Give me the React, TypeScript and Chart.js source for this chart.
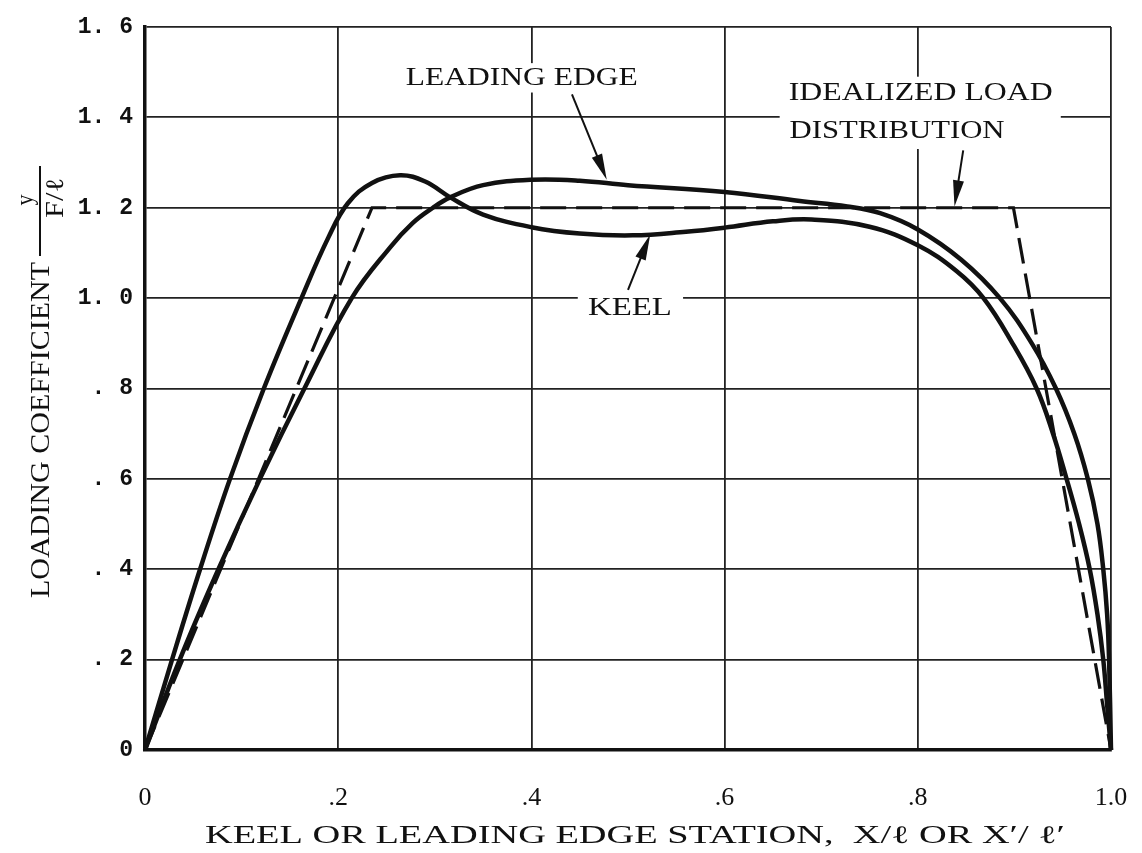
import React, { useEffect, useRef } from 'react';
import { Chart, registerables } from 'chart.js';

Chart.register(...registerables);

// ---- data ----
const keelX = [0, 0.028, 0.057, 0.088, 0.123, 0.162, 0.19, 0.21, 0.235, 0.264, 0.29, 0.316, 0.35, 0.4, 0.45, 0.505, 0.56, 0.6, 0.65, 0.69, 0.75, 0.8, 0.84, 0.868, 0.898, 0.923, 0.94, 0.954, 0.967, 0.978, 0.986, 0.992, 0.996, 1.0];
const keelY = [0, 0.2, 0.4, 0.6, 0.8, 1.0, 1.135, 1.21, 1.255, 1.272, 1.258, 1.223, 1.185, 1.157, 1.143, 1.139, 1.147, 1.156, 1.17, 1.174, 1.158, 1.117, 1.06, 1.0, 0.9, 0.8, 0.7, 0.6, 0.5, 0.4, 0.3, 0.2, 0.1, 0];

const leadingEdgeX = [0, 0.036, 0.076, 0.119, 0.165, 0.214, 0.254, 0.277, 0.298, 0.316, 0.35, 0.4, 0.45, 0.5, 0.6, 0.678, 0.727, 0.761, 0.8, 0.845, 0.885, 0.918, 0.943, 0.962, 0.976, 0.986, 0.992, 0.996, 0.998, 1.0];
const leadingEdgeY = [0, 0.2, 0.4, 0.6, 0.8, 1.0, 1.113, 1.166, 1.2, 1.223, 1.25, 1.262, 1.26, 1.25, 1.235, 1.215, 1.203, 1.188, 1.152, 1.085, 1.0, 0.9, 0.8, 0.7, 0.6, 0.5, 0.4, 0.3, 0.2, 0];

const idealX = [0, 0.235, 0.899, 1.0];
const idealY = [0, 1.2, 1.2, 0];

const xTickValues = [0, 0.2, 0.4, 0.6, 0.8, 1.0];
const xTickLabels = ['0', '.2', '.4', '.6', '.8', '1.0'];
const yTickValues = [0, 0.2, 0.4, 0.6, 0.8, 1.0, 1.2, 1.4, 1.6];
const yTickLabels = ['0', '. 2', '. 4', '. 6', '. 8', '1. 0', '1. 2', '1. 4', '1. 6'];

const xTitle = "KEEL OR LEADING EDGE STATION,  X/ℓ OR X′/ ℓ′";
const yTitle = 'LOADING COEFFICIENT';

const pts = (xs: number[], ys: number[]) => xs.map((x, i) => ({ x, y: ys[i] }));

const SERIF = "'Liberation Serif', 'DejaVu Serif', serif";

function fitText(ctx: CanvasRenderingContext2D, text: string, cx: number, cy: number, size: number, width: number, rot = 0, weight = 'normal') {
  ctx.save();
  ctx.font = `${weight} ${size}px ${SERIF}`;
  const w = ctx.measureText(text).width;
  ctx.translate(cx, cy);
  if (rot) ctx.rotate(rot);
  ctx.scale(width / w, 1);
  ctx.textAlign = 'center';
  ctx.textBaseline = 'alphabetic';
  ctx.fillStyle = '#111';
  ctx.fillText(text, 0, size * 0.33);
  ctx.restore();
}

function arrow(ctx: CanvasRenderingContext2D, x1: number, y1: number, x2: number, y2: number) {
  const ang = Math.atan2(y2 - y1, x2 - x1);
  const hl = 26, hw = 5.5;
  ctx.save();
  ctx.strokeStyle = '#111';
  ctx.fillStyle = '#111';
  ctx.lineWidth = 2;
  ctx.beginPath();
  ctx.moveTo(x1, y1);
  ctx.lineTo(x2 - Math.cos(ang) * hl * 0.8, y2 - Math.sin(ang) * hl * 0.8);
  ctx.stroke();
  ctx.beginPath();
  ctx.moveTo(x2, y2);
  ctx.lineTo(x2 - Math.cos(ang) * hl - Math.sin(ang) * hw, y2 - Math.sin(ang) * hl + Math.cos(ang) * hw);
  ctx.lineTo(x2 - Math.cos(ang) * hl + Math.sin(ang) * hw, y2 - Math.sin(ang) * hl - Math.cos(ang) * hw);
  ctx.closePath();
  ctx.fill();
  ctx.restore();
}

const annotPlugin = {
  id: 'annots',
  beforeDatasetsDraw(chart: any) {
    const ctx = chart.ctx as CanvasRenderingContext2D;
    const xs = chart.scales.x, ys = chart.scales.y;
    const box = (x1: number, y1: number, x2: number, y2: number) => {
      const a = xs.getPixelForValue(x1), b = ys.getPixelForValue(y1);
      const c = xs.getPixelForValue(x2), d = ys.getPixelForValue(y2);
      ctx.fillStyle = '#fff';
      ctx.fillRect(a, d, c - a, b - d);
    };
    ctx.save();
    box(0.269, 1.455, 0.512, 1.52);     // LEADING EDGE
    box(0.448, 0.945, 0.557, 1.012);    // KEEL
    box(0.657, 1.33, 0.948, 1.49);      // IDEALIZED LOAD DISTRIBUTION
    ctx.restore();
  },
  afterDatasetsDraw(chart: any) {
    const ctx = chart.ctx as CanvasRenderingContext2D;
    const xs = chart.scales.x, ys = chart.scales.y;
    const px = (v: number) => xs.getPixelForValue(v);
    const py = (v: number) => ys.getPixelForValue(v);
    fitText(ctx, 'LEADING EDGE', px(0.390), py(1.491), 25, 232);
    arrow(ctx, px(0.442), py(1.451), px(0.478), py(1.262));
    fitText(ctx, 'KEEL', px(0.502), py(0.980), 25, 84);
    arrow(ctx, px(0.500), py(1.018), px(0.523), py(1.141));
    fitText(ctx, 'IDEALIZED LOAD', px(0.803), py(1.456), 25, 264);
    fitText(ctx, 'DISTRIBUTION', px(0.7785), py(1.372), 25, 215);
    arrow(ctx, px(0.847), py(1.327), px(0.838), py(1.203));
  },
  afterDraw(chart: any) {
    const ctx = chart.ctx as CanvasRenderingContext2D;
    // x axis title
    fitText(ctx, xTitle, 635, 835, 25, 860);
    // y axis title (rotated)
    fitText(ctx, yTitle, 40, 430, 27, 336, -Math.PI / 2);
    // fraction y / (F/l)
    ctx.save();
    ctx.strokeStyle = '#111';
    ctx.lineWidth = 2;
    ctx.beginPath();
    ctx.moveTo(40, 256);
    ctx.lineTo(40, 166);
    ctx.stroke();
    ctx.restore();
    fitText(ctx, 'y', 25, 200, 25, 11, -Math.PI / 2);
    fitText(ctx, 'F/ℓ', 55, 198, 25, 40, -Math.PI / 2);
  },
};

export default function App() {
  const ref = useRef<HTMLCanvasElement | null>(null);
  useEffect(() => {
    if (!ref.current) return;
    const solid = { borderColor: '#111', borderWidth: 4.5, pointRadius: 0, showLine: true, fill: false, tension: 0.4, clip: 8 };
    const chart = new Chart(ref.current, {
      type: 'scatter',
      data: {
        datasets: [
          { label: 'Keel', data: pts(keelX, keelY), ...solid },
          { label: 'Leading edge', data: pts(leadingEdgeX, leadingEdgeY), ...solid },
          { label: 'Idealized load distribution', data: pts(idealX, idealY), borderColor: '#111', borderWidth: 3.2, borderDash: [26, 10], pointRadius: 0, showLine: true, tension: 0, clip: 8 },
        ],
      },
      options: {
        animation: false,
        responsive: false,
        devicePixelRatio: 1,
        layout: { padding: { top: 27, right: 31, left: 0, bottom: 0 } },
        plugins: { legend: { display: false }, tooltip: { enabled: false } },
        scales: {
          x: {
            type: 'linear', min: 0, max: 1,
            afterBuildTicks: (s: any) => { s.ticks = xTickValues.map((v) => ({ value: v })); },
            afterFit: (s: any) => { s.height = 103; s.paddingLeft = 0; s.paddingRight = 0; },
            ticks: {
              padding: 33, color: '#111', maxRotation: 0, autoSkip: false,
              font: { family: SERIF, size: 26 },
              callback: (v: any, i: number) => xTickLabels[i],
            },
            grid: { color: '#222', lineWidth: 1.8, drawTicks: false },
            border: { color: '#111', width: 3.5 },
          },
          y: {
            type: 'linear', min: 0, max: 1.6,
            afterBuildTicks: (s: any) => { s.ticks = yTickValues.map((v) => ({ value: v })); },
            afterFit: (s: any) => { s.width = 145; s.paddingTop = 0; s.paddingBottom = 0; },
            ticks: {
              padding: 12, color: '#111', autoSkip: false,
              font: { family: "'Liberation Mono', 'DejaVu Sans Mono', monospace", size: 23, weight: 'bold' },
              callback: (v: any, i: number) => yTickLabels[i],
            },
            grid: { color: '#222', lineWidth: 1.8, drawTicks: false },
            border: { color: '#111', width: 3.5 },
          },
        },
      },
      plugins: [annotPlugin],
    } as any);
    return () => chart.destroy();
  }, []);
  return (
    <div style={{ position: 'absolute', left: 0, top: 0, width: 1142, height: 853, background: '#fff' }}>
      <canvas ref={ref} width={1142} height={853} style={{ width: 1142, height: 853, display: 'block' }} />
    </div>
  );
}
